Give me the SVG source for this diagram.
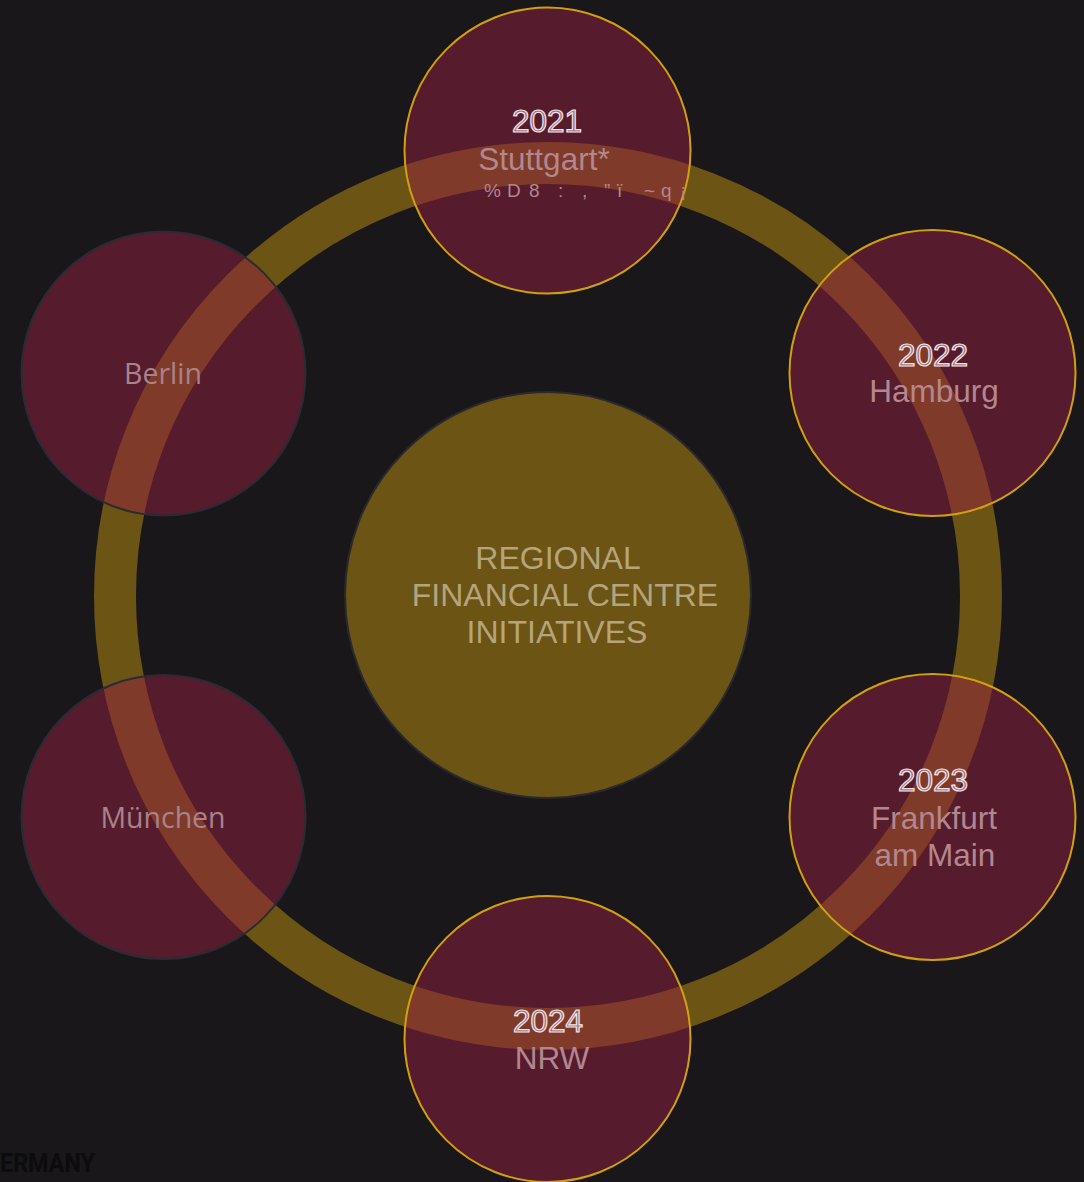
<svg xmlns="http://www.w3.org/2000/svg" width="1084" height="1182" viewBox="0 0 1084 1182">
<style>
.node{fill:#931f3e;fill-opacity:0.5}
.gold{stroke:#d0a011;stroke-width:2}
.dark{stroke:#2a2c34;stroke-width:2}
.yr{font-family:"Liberation Sans",Arial,sans-serif;font-size:31.5px;fill:#9a6a76;stroke:#f3e6ea;stroke-width:1.2;text-anchor:middle}
.city{font-family:"Liberation Sans",Arial,sans-serif;font-size:31.5px;fill:#b3878f;text-anchor:middle}
.city2{font-family:"Open Sans","Noto Sans",sans-serif;font-size:28.5px;fill:#a9838b;text-anchor:middle}
.ctr{font-family:"Liberation Sans",Arial,sans-serif;font-size:32px;fill:#b5a47c;text-anchor:middle}
</style>
<rect width="1084" height="1182" fill="#19171a"/>
<g id="connectors">
<circle cx="548" cy="596" r="433" fill="none" stroke="#6b5414" stroke-width="42"/>
</g>
<g id="center">
<circle cx="548" cy="595" r="203" fill="#6b5414" stroke="#2a2a2e" stroke-width="2"/>
<text class="ctr" x="558" y="569">REGIONAL</text>
<text class="ctr" x="565" y="606">FINANCIAL CENTRE</text>
<text class="ctr" x="557" y="643">INITIATIVES</text>
</g>
<g id="stuttgart">
<circle class="node gold" cx="547.5" cy="150.5" r="143"/>
<text class="yr" x="547" y="132">2021</text>
<text class="city" x="544" y="170">Stuttgart*</text>
<text font-family="Liberation Sans,Arial,sans-serif" font-size="19" fill="#b3878f" x="484 507 529 558 582 604 617 644 661 680" y="197">%D8:,”ï~q¡</text>
</g>
<g id="hamburg">
<circle class="node gold" cx="932.5" cy="373" r="143"/>
<text class="yr" x="933" y="366">2022</text>
<text class="city" x="934" y="402">Hamburg</text>
</g>
<g id="frankfurt">
<circle class="node gold" cx="932.5" cy="817" r="143"/>
<text class="yr" x="933" y="791">2023</text>
<text class="city" x="934" y="829">Frankfurt</text>
<text class="city" x="935" y="866">am Main</text>
</g>
<g id="nrw">
<circle class="node gold" cx="547.5" cy="1039" r="143"/>
<text class="yr" x="548" y="1032">2024</text>
<text class="city" x="552" y="1069">NRW</text>
</g>
<g id="berlin">
<circle class="node dark" cx="163.5" cy="373.5" r="142"/>
<text class="city2" x="163" y="384">Berlin</text>
</g>
<g id="muenchen">
<circle class="node dark" cx="163.5" cy="817" r="142"/>
<text class="city2" x="163" y="828">München</text>
</g>
<text x="0" y="1172" font-family="Roboto,'Liberation Sans',sans-serif" font-weight="bold" font-size="26" fill="#0c0b0d" textLength="95" lengthAdjust="spacingAndGlyphs">ERMANY</text>
</svg>
